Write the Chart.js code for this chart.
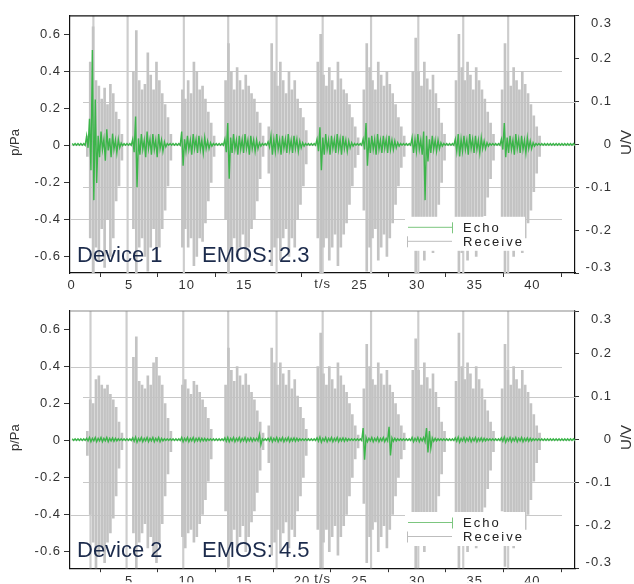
<!DOCTYPE html>
<html>
<head>
<meta charset="utf-8">
<script src="https://cdn.jsdelivr.net/npm/chart.js@4.4.0/dist/chart.umd.min.js"></script>
<style>
html, body { margin: 0; padding: 0; background: #fff; }
.panel { position: absolute; left: 0; width: 634px; height: 292px; }
</style>
</head>
<body>
<div class="panel" style="top:0"><canvas id="topChart" width="634" height="292"></canvas></div>
<div class="panel" style="top:292px"><canvas id="bottomChart" width="634" height="292"></canvas></div>
<script>
// envelope bins: 0.25 s wide, starting at t = 0 s
const binStart = 0, binStep = 0.25;

const xTicksTop = [0, 5, 10, 15, 25, 30, 35, 40];
const xTicksBottom = [5, 10, 15, 20, 25, 30, 35, 40];
const leftTicks = [-0.6, -0.4, -0.2, 0, 0.2, 0.4, 0.6];
const rightTicks = [-0.3, -0.2, -0.1, 0, 0.1, 0.2, 0.3];
const leftGrid = [-0.4, 0.4];
const rightGrid = [-0.1, 0.1];

// clipped peaks (run past the axis range)
const clipTop = [1.9, 4.87, 9.75, 13.6, 17.8, 21.8, 26.0, 30.1, 34.0, 37.9];
const clipBottom = [1.65, 4.78, 9.7, 13.6, 17.8, 21.8, 26.0, 30.1, 34.0, 37.9];
const clipRange = [-0.9, 0.9];

// Device 1 - receive (p/Pa)
const recvHiTop = [
0,0,0,0,
0,0.05,0.45,0.64,0.35,0.32,0.25,0.31,0.22,0.33,0.28,0.18,0.14,0.06,0,0,
0,0.40,0.62,0.35,0.30,0.33,0.50,0.38,0.30,0.45,0.35,0.28,0.22,0.15,0.06,0,
0,0,0.30,0.25,0.35,0.28,0.45,0.40,0.30,0.32,0.25,0.18,0.12,0.05,0,0,
0,0.35,0.55,0.40,0.30,0.42,0.35,0.30,0.38,0.32,0.28,0.25,0.18,0.12,0.05,0,
0.10,0.55,0.40,0.32,0.45,0.35,0.28,0.40,0.30,0.35,0.25,0.20,0.15,0.08,0,0,
0,0.45,0.60,0.38,0.32,0.42,0.35,0.30,0.45,0.36,0.30,0.28,0.22,0.15,0.10,0.04,
0,0.30,0.55,0.42,0.35,0.30,0.45,0.38,0.32,0.40,0.33,0.28,0.22,0.15,0.10,0.05,
0,0,0.40,0.58,0.40,0.32,0.45,0.36,0.30,0.38,0.28,0.20,0.12,0.06,0,0,
0,0.35,0.60,0.42,0.35,0.45,0.38,0.30,0.42,0.35,0.30,0.25,0.18,0.12,0.06,0,
0,0.30,0.55,0.40,0.32,0.42,0.35,0.30,0.40,0.33,0.28,0.22,0.16,0.10,0.05,0,
0,0,0,0,0,0,0,0,0,0,0,0];
const recvLoTop = [
0,0,0,0,
0,-0.06,-0.50,-0.72,-0.55,-0.62,-0.45,-0.66,-0.40,-0.60,-0.50,-0.30,-0.22,-0.08,0,0,
0,-0.45,-0.70,-0.55,-0.50,-0.60,-0.68,-0.55,-0.45,-0.62,-0.55,-0.45,-0.35,-0.22,-0.08,0,
0,0,-0.55,-0.45,-0.55,-0.50,-0.65,-0.60,-0.50,-0.52,-0.42,-0.30,-0.20,-0.06,0,0,
0,-0.40,-0.70,-0.55,-0.50,-0.60,-0.55,-0.48,-0.62,-0.55,-0.45,-0.40,-0.30,-0.18,-0.06,0,
-0.15,-0.65,-0.55,-0.50,-0.62,-0.50,-0.45,-0.60,-0.50,-0.55,-0.40,-0.32,-0.22,-0.10,0,0,
0,-0.50,-0.72,-0.55,-0.50,-0.62,-0.55,-0.48,-0.65,-0.55,-0.48,-0.42,-0.32,-0.22,-0.12,-0.05,
0,-0.35,-0.68,-0.55,-0.50,-0.45,-0.62,-0.55,-0.48,-0.60,-0.50,-0.42,-0.32,-0.22,-0.12,-0.06,
0,0,-0.50,-0.72,-0.55,-0.50,-0.62,-0.55,-0.45,-0.58,-0.45,-0.32,-0.20,-0.08,0,0,
0,-0.45,-0.72,-0.58,-0.50,-0.62,-0.55,-0.45,-0.60,-0.52,-0.45,-0.38,-0.28,-0.18,-0.08,0,
0,-0.40,-0.70,-0.55,-0.48,-0.60,-0.52,-0.45,-0.58,-0.50,-0.42,-0.35,-0.25,-0.15,-0.06,0,
0,0,0,0,0,0,0,0,0,0,0,0];

// Device 1 - echo (U/V)
const echoHiTop = [
0.002,0.002,0.002,0.002,
0.002,0.02,0.06,0.22,0.105,0.02,0.03,0.012,0.035,0.014,0.025,0.01,0.012,0.003,0.002,0.002,
0.002,0.012,0.065,0.014,0.024,0.01,0.03,0.012,0.024,0.01,0.024,0.01,0.006,0.002,0.002,0.002,
0.002,0.002,0.03,0.012,0.02,0.01,0.024,0.012,0.02,0.01,0.016,0.008,0.004,0.002,0.002,0.002,
0.002,0.012,0.05,0.016,0.024,0.01,0.02,0.012,0.024,0.01,0.02,0.01,0.01,0.004,0.002,0.002,
0.006,0.02,0.012,0.024,0.01,0.02,0.012,0.024,0.01,0.02,0.012,0.008,0.004,0.002,0.002,0.002,
0.002,0.012,0.04,0.016,0.024,0.01,0.02,0.012,0.024,0.012,0.02,0.01,0.008,0.004,0.002,0.002,
0.002,0.012,0.05,0.016,0.02,0.012,0.024,0.01,0.02,0.012,0.02,0.01,0.008,0.004,0.002,0.002,
0.002,0.002,0.016,0.012,0.024,0.01,0.03,0.02,0.012,0.02,0.01,0.01,0.004,0.002,0.002,0.002,
0.002,0.012,0.024,0.012,0.02,0.01,0.024,0.012,0.02,0.01,0.016,0.008,0.004,0.002,0.002,0.002,
0.002,0.012,0.05,0.016,0.02,0.01,0.024,0.012,0.02,0.01,0.016,0.008,0.004,0.002,0.002,0.002,
0.002,0.002,0.002,0.002,0.002,0.002,0.002,0.002,0.002,0.002,0.002,0.002];
const echoLoTop = [
-0.002,-0.002,-0.002,-0.002,
-0.002,-0.008,-0.06,-0.13,-0.09,-0.03,-0.012,-0.038,-0.014,-0.03,-0.012,-0.02,-0.008,-0.003,-0.002,-0.002,
-0.002,-0.018,-0.10,-0.024,-0.012,-0.03,-0.01,-0.024,-0.012,-0.03,-0.01,-0.016,-0.006,-0.002,-0.002,-0.002,
-0.002,-0.002,-0.05,-0.016,-0.012,-0.024,-0.01,-0.02,-0.012,-0.02,-0.01,-0.01,-0.004,-0.002,-0.002,-0.002,
-0.002,-0.018,-0.08,-0.02,-0.012,-0.024,-0.012,-0.02,-0.01,-0.024,-0.01,-0.016,-0.01,-0.004,-0.002,-0.002,
-0.006,-0.024,-0.016,-0.012,-0.024,-0.01,-0.02,-0.012,-0.02,-0.01,-0.016,-0.008,-0.004,-0.002,-0.002,-0.002,
-0.002,-0.016,-0.06,-0.024,-0.012,-0.024,-0.01,-0.02,-0.012,-0.024,-0.01,-0.016,-0.008,-0.004,-0.002,-0.002,
-0.002,-0.012,-0.05,-0.02,-0.012,-0.024,-0.012,-0.02,-0.01,-0.02,-0.012,-0.012,-0.008,-0.004,-0.002,-0.002,
-0.002,-0.002,-0.02,-0.016,-0.012,-0.024,-0.13,-0.04,-0.02,-0.012,-0.016,-0.01,-0.004,-0.002,-0.002,-0.002,
-0.002,-0.016,-0.028,-0.016,-0.012,-0.024,-0.01,-0.02,-0.012,-0.02,-0.01,-0.01,-0.004,-0.002,-0.002,-0.002,
-0.002,-0.012,-0.03,-0.02,-0.012,-0.024,-0.01,-0.02,-0.012,-0.02,-0.01,-0.01,-0.004,-0.002,-0.002,-0.002,
-0.002,-0.002,-0.002,-0.002,-0.002,-0.002,-0.002,-0.002,-0.002,-0.002,-0.002,-0.002];

// Device 2 - receive (p/Pa)
const recvHiBottom = [
0,0,0,0,
0,0.05,0.22,0.20,0.33,0.35,0.30,0.28,0.30,0.25,0.22,0.18,0.10,0.04,0,0,
0,0.45,0.56,0.32,0.30,0.28,0.35,0.30,0.42,0.45,0.35,0.30,0.20,0.12,0.05,0,
0,0,0.30,0.33,0.28,0.25,0.32,0.30,0.26,0.22,0.18,0.12,0.06,0,0,0,
0,0.30,0.50,0.38,0.32,0.40,0.35,0.30,0.36,0.30,0.26,0.22,0.16,0.10,0.04,0,
0.08,0.50,0.42,0.30,0.42,0.36,0.30,0.38,0.28,0.33,0.24,0.18,0.12,0.06,0,0,
0,0.40,0.58,0.36,0.30,0.40,0.33,0.28,0.42,0.35,0.30,0.26,0.20,0.14,0.08,0.03,
0,0.28,0.52,0.40,0.33,0.30,0.42,0.36,0.30,0.38,0.30,0.26,0.20,0.14,0.08,0.04,
0,0,0.38,0.55,0.38,0.30,0.42,0.34,0.28,0.36,0.26,0.18,0.10,0.05,0,0,
0,0.32,0.58,0.40,0.33,0.42,0.36,0.28,0.40,0.33,0.28,0.22,0.16,0.10,0.05,0,
0,0.28,0.52,0.38,0.30,0.40,0.33,0.28,0.38,0.30,0.26,0.20,0.14,0.08,0.04,0,
0,0,0,0,0,0,0,0,0,0,0,0];
const recvLoBottom = [
0,0,0,0,
0,-0.08,-0.40,-0.55,-0.70,-0.62,-0.58,-0.66,-0.55,-0.50,-0.42,-0.30,-0.15,-0.05,0,0,
0,-0.50,-0.72,-0.55,-0.50,-0.45,-0.58,-0.52,-0.62,-0.66,-0.55,-0.45,-0.30,-0.18,-0.06,0,
0,0,-0.52,-0.58,-0.50,-0.48,-0.55,-0.52,-0.45,-0.40,-0.32,-0.22,-0.10,0,0,0,
0,-0.38,-0.68,-0.55,-0.48,-0.58,-0.52,-0.46,-0.60,-0.52,-0.44,-0.38,-0.28,-0.16,-0.05,0,
-0.12,-0.62,-0.55,-0.48,-0.60,-0.50,-0.44,-0.58,-0.48,-0.52,-0.38,-0.30,-0.20,-0.08,0,0,
0,-0.48,-0.70,-0.55,-0.48,-0.60,-0.52,-0.46,-0.62,-0.52,-0.46,-0.40,-0.30,-0.20,-0.10,-0.04,
0,-0.34,-0.66,-0.52,-0.48,-0.44,-0.60,-0.52,-0.46,-0.58,-0.48,-0.40,-0.30,-0.20,-0.10,-0.05,
0,0,-0.48,-0.70,-0.52,-0.48,-0.60,-0.52,-0.44,-0.56,-0.42,-0.30,-0.18,-0.06,0,0,
0,-0.44,-0.70,-0.56,-0.48,-0.60,-0.52,-0.44,-0.58,-0.50,-0.42,-0.36,-0.26,-0.16,-0.06,0,
0,-0.38,-0.68,-0.52,-0.46,-0.58,-0.50,-0.44,-0.56,-0.48,-0.40,-0.32,-0.22,-0.12,-0.05,0,
0,0,0,0,0,0,0,0,0,0,0,0];

// Device 2 - echo (U/V)
const echoHiBottom = [
0.002,0.002,0.002,0.002,
0.002,0.003,0.005,0.003,0.005,0.003,0.005,0.003,0.005,0.003,0.004,0.003,0.002,0.002,0.002,0.002,
0.002,0.004,0.006,0.003,0.005,0.003,0.005,0.003,0.005,0.003,0.005,0.003,0.002,0.002,0.002,0.002,
0.002,0.002,0.005,0.003,0.005,0.003,0.005,0.003,0.004,0.003,0.003,0.002,0.002,0.002,0.002,0.002,
0.002,0.004,0.005,0.003,0.005,0.003,0.005,0.003,0.005,0.003,0.004,0.003,0.003,0.012,0.002,0.002,
0.003,0.005,0.003,0.005,0.003,0.005,0.003,0.005,0.003,0.004,0.003,0.002,0.002,0.002,0.002,0.002,
0.002,0.004,0.006,0.003,0.005,0.003,0.005,0.003,0.005,0.003,0.004,0.003,0.002,0.002,0.002,0.002,
0.002,0.027,0.005,0.003,0.005,0.003,0.005,0.003,0.005,0.003,0.03,0.004,0.003,0.002,0.002,0.002,
0.002,0.002,0.005,0.003,0.005,0.003,0.005,0.027,0.02,0.004,0.003,0.002,0.002,0.002,0.002,0.002,
0.002,0.004,0.006,0.003,0.005,0.003,0.005,0.003,0.005,0.003,0.004,0.003,0.002,0.002,0.002,0.002,
0.002,0.004,0.006,0.003,0.005,0.003,0.005,0.003,0.005,0.003,0.004,0.003,0.002,0.002,0.002,0.002,
0.002,0.002,0.002,0.002,0.002,0.002,0.002,0.002,0.002,0.002,0.002,0.002];
const echoLoBottom = [
-0.002,-0.002,-0.002,-0.002,
-0.002,-0.003,-0.005,-0.003,-0.005,-0.003,-0.005,-0.003,-0.005,-0.003,-0.004,-0.003,-0.002,-0.002,-0.002,-0.002,
-0.002,-0.004,-0.006,-0.003,-0.005,-0.003,-0.005,-0.003,-0.005,-0.003,-0.005,-0.003,-0.002,-0.002,-0.002,-0.002,
-0.002,-0.002,-0.005,-0.003,-0.005,-0.003,-0.005,-0.003,-0.004,-0.003,-0.003,-0.002,-0.002,-0.002,-0.002,-0.002,
-0.002,-0.004,-0.005,-0.003,-0.005,-0.003,-0.005,-0.003,-0.005,-0.003,-0.004,-0.003,-0.003,-0.012,-0.002,-0.002,
-0.003,-0.005,-0.003,-0.005,-0.003,-0.005,-0.003,-0.005,-0.003,-0.004,-0.003,-0.002,-0.002,-0.002,-0.002,-0.002,
-0.002,-0.004,-0.006,-0.003,-0.005,-0.003,-0.005,-0.003,-0.005,-0.003,-0.004,-0.003,-0.002,-0.002,-0.002,-0.002,
-0.002,-0.047,-0.005,-0.003,-0.005,-0.003,-0.005,-0.003,-0.005,-0.003,-0.037,-0.004,-0.003,-0.002,-0.002,-0.002,
-0.002,-0.002,-0.005,-0.003,-0.005,-0.003,-0.005,-0.03,-0.02,-0.004,-0.003,-0.002,-0.002,-0.002,-0.002,-0.002,
-0.002,-0.004,-0.006,-0.003,-0.005,-0.003,-0.005,-0.003,-0.005,-0.003,-0.004,-0.003,-0.002,-0.002,-0.002,-0.002,
-0.002,-0.004,-0.006,-0.003,-0.005,-0.003,-0.005,-0.003,-0.005,-0.003,-0.004,-0.003,-0.002,-0.002,-0.002,-0.002,
-0.002,-0.002,-0.002,-0.002,-0.002,-0.002,-0.002,-0.002,-0.002,-0.002,-0.002,-0.002];

const FONT = '"Liberation Sans", Arial, sans-serif';
const GREEN = '#3cb54a';
const GRAY = '#c3c3c3';
const NAVY = '#1c2b4c';

// receive: one min/max bar per bin
function envelope(lo, hi) {
  return hi.map((h, i) => ({ x: binStart + binStep * (i + 0.5), y: [lo[i], h] }));
}

// echo: trace that swings between the bin's max and min
function swing(lo, hi) {
  const pts = [];
  hi.forEach((h, i) => {
    const t = binStart + binStep * i;
    pts.push({ x: t + binStep * 0.25, y: h }, { x: t + binStep * 0.75, y: lo[i] });
  });
  return pts;
}

function line(ctx, x1, y1, x2, y2) {
  ctx.moveTo(x1, y1);
  ctx.lineTo(x2, y2);
}

// grid pieces, legend, captions and frame
const decor = {
  id: 'decor',
  beforeDraw(chart) {
    chart.ctx.letterSpacing = '1px';
  },
  beforeDatasetsDraw(chart) {
    const { ctx, chartArea: a, scales } = chart;
    ctx.save();
    ctx.strokeStyle = '#c8c8c8';
    ctx.lineWidth = 1;
    ctx.beginPath();
    leftGrid.forEach(v => {
      const y = Math.round(scales.y.getPixelForValue(v)) + 0.5;
      line(ctx, a.left, y, a.right - 13, y);
    });
    rightGrid.forEach(v => {
      const y = Math.round(scales.y1.getPixelForValue(v)) + 0.5;
      line(ctx, a.left + 13, y, a.right, y);
    });
    ctx.stroke();
    ctx.restore();
  },
  afterDatasetsDraw(chart, args, opts) {
    const { ctx, chartArea: a } = chart;
    ctx.save();
    ctx.letterSpacing = '0px';
    ctx.fillStyle = NAVY;
    ctx.font = '22px ' + FONT;
    ctx.textBaseline = 'alphabetic';
    ctx.fillText(opts.device, a.left + 7, a.bottom - 11.5);
    ctx.fillText(opts.emos, a.left + 132, a.bottom - 11.5);

    // legend
    const lx = a.left + 335, ly = a.top + 201;
    ctx.fillStyle = '#fff';
    ctx.fillRect(lx, ly, 120, 34);
    const yE = ly + 10.5, yR = ly + 24.5;
    ctx.lineWidth = 1;
    ctx.strokeStyle = '#7cc67f';
    ctx.beginPath();
    line(ctx, lx + 3, yE, lx + 47, yE);
    line(ctx, lx + 47.5, yE - 5, lx + 47.5, yE + 6);
    ctx.stroke();
    ctx.strokeStyle = '#bdbdbd';
    ctx.beginPath();
    line(ctx, lx + 3, yR, lx + 47, yR);
    line(ctx, lx + 2.5, yR - 5, lx + 2.5, yR + 6);
    ctx.stroke();
    ctx.fillStyle = '#222';
    ctx.font = '13px ' + FONT;
    ctx.letterSpacing = '2px';
    ctx.textBaseline = 'middle';
    ctx.fillText('Echo', lx + 58, yE + 1);
    ctx.fillText('Receive', lx + 58, yR + 1);
    ctx.restore();
  },
  afterDraw(chart, args, opts) {
    const { ctx, chartArea: a, scales } = chart;
    ctx.save();
    ctx.strokeStyle = opts.topBorder;
    ctx.lineWidth = 1.2;
    ctx.beginPath();
    line(ctx, a.left, a.top, a.right, a.top);
    ctx.stroke();

    // end labels of the right axis sit inside the frame
    ctx.fillStyle = '#333';
    ctx.font = '13px ' + FONT;
    ctx.textAlign = 'right';
    ctx.textBaseline = 'middle';
    ctx.fillText('0.3', a.right + 37, a.top + 8);
    ctx.fillText('-0.3', a.right + 37, a.bottom - 6);

    const midY = (a.top + a.bottom) / 2 - 2;
    ctx.textAlign = 'center';
    ctx.letterSpacing = '0px';
    ctx.save();
    ctx.translate(15, midY);
    ctx.rotate(-Math.PI / 2);
    ctx.font = '13px ' + FONT;
    ctx.fillText('p/Pa', 0, 0);
    ctx.restore();
    ctx.save();
    ctx.translate(627, midY);
    ctx.rotate(-Math.PI / 2);
    ctx.font = '15px ' + FONT;
    ctx.fillText('U/V', 0, 0);
    ctx.restore();

    ctx.letterSpacing = '1px';
    ctx.font = '13px ' + FONT;
    ctx.textBaseline = 'top';
    ctx.fillText('t/s', scales.x.getPixelForValue(21.8), a.bottom + 5);
    ctx.restore();
  }
};

function tickFmt(v) {
  return v === 0 ? '0' : v.toFixed(1);
}

function makePanel(id, o) {
  const tickFont = { family: FONT, size: 13 };
  return new Chart(document.getElementById(id), {
    type: 'bar',
    data: {
      datasets: [
        { type: 'line', label: 'Echo', data: swing(o.echoLo, o.echoHi), yAxisID: 'y1',
          borderColor: GREEN, borderWidth: 1.4, pointRadius: 0, tension: 0, fill: false },
        { label: 'Receive', data: envelope(o.recvLo, o.recvHi), yAxisID: 'y',
          backgroundColor: GRAY, barThickness: 2, grouped: false },
        { label: 'Clip', data: o.clips.map(t => ({ x: t, y: clipRange })), yAxisID: 'y',
          backgroundColor: '#cdcdcd', barThickness: 1.5, grouped: false }
      ]
    },
    options: {
      responsive: false,
      animation: false,
      layout: { padding: { top: o.padTop, left: 0, right: 22, bottom: 0 } },
      plugins: {
        legend: { display: false },
        tooltip: { enabled: false },
        decor: { device: o.device, emos: o.emos, topBorder: o.topBorder }
      },
      scales: {
        x: {
          type: 'linear', min: -0.13, max: 43.7, offset: false,
          afterFit: s => { s.height = o.xHeight; },
          afterBuildTicks: s => { s.ticks = o.xTicks.map(v => ({ value: v })); },
          grid: { drawOnChartArea: false, drawTicks: true, tickLength: 4, color: '#333' },
          border: { color: '#111', width: 1.2 },
          ticks: { autoSkip: false, maxRotation: 0, padding: 1, color: '#333', font: tickFont,
                   callback: v => String(v) }
        },
        y: {
          position: 'left', min: -0.69, max: 0.70,
          afterFit: s => { s.width = 70; },
          afterBuildTicks: s => { s.ticks = leftTicks.map(v => ({ value: v })); },
          grid: { drawOnChartArea: false, drawTicks: true, tickLength: 6, color: '#333' },
          border: { color: '#111', width: 1.2 },
          ticks: { padding: 3, color: '#333', font: tickFont, callback: tickFmt }
        },
        y1: {
          position: 'right', min: -0.3, max: 0.3,
          afterFit: s => { s.width = 37; },
          afterBuildTicks: s => { s.ticks = rightTicks.map(v => ({ value: v })); },
          grid: { drawOnChartArea: false, drawTicks: true, tickLength: 4, color: '#333' },
          border: { color: '#111', width: 1.2 },
          ticks: { padding: 8, crossAlign: 'far', color: '#333', font: tickFont,
                   callback: v => (Math.abs(v) > 0.25 ? '' : tickFmt(v)) }
        }
      }
    },
    plugins: [decor]
  });
}

makePanel('topChart', {
  recvHi: recvHiTop, recvLo: recvLoTop, echoHi: echoHiTop, echoLo: echoLoTop,
  clips: clipTop, xTicks: xTicksTop, padTop: 12, xHeight: 19,
  device: 'Device 1', emos: 'EMOS: 2.3', topBorder: '#111'
});

makePanel('bottomChart', {
  recvHi: recvHiBottom, recvLo: recvLoBottom, echoHi: echoHiBottom, echoLo: echoLoBottom,
  clips: clipBottom, xTicks: xTicksBottom, padTop: 19, xHeight: 14,
  device: 'Device 2', emos: 'EMOS: 4.5', topBorder: '#8a8a8a'
});
</script>
</body>
</html>
